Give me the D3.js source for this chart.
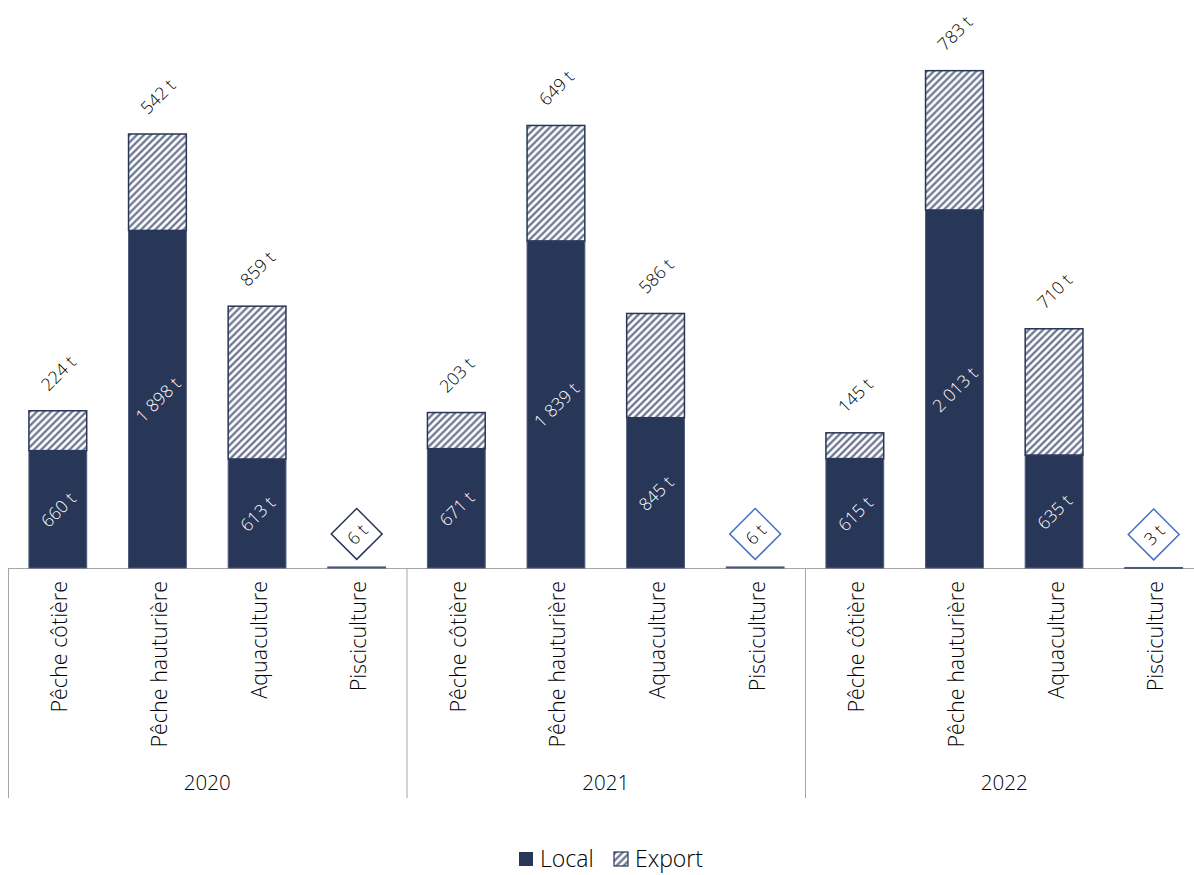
<!DOCTYPE html>
<html>
<head>
<meta charset="utf-8">
<script src="https://cdn.jsdelivr.net/npm/d3@7"></script>
<style>
  body { margin: 0; background: #fff; }
  text { font-family: "Open Sans", "Noto Sans", sans-serif; font-weight: 300; }
</style>
</head>
<body>
<svg width="1194" height="875"></svg>
<script>
// tonnages by year and activity
var years = ['2020', '2021', '2022'];
var categories = ['Pêche côtière', 'Pêche hauturière', 'Aquaculture', 'Pisciculture'];
var localValues = [
  [660, 1898, 613, 6],
  [671, 1839, 845, 6],
  [615, 2013, 635, 3]
];
var exportValues = [
  [224, 542, 859, 0],
  [203, 649, 586, 0],
  [145, 783, 710, 0]
];
var seriesNames = ['Local', 'Export'];
var diamondBorders = ['#283657', '#4472c4', '#4472c4'];

var navy = '#283657';
var baseY = 568;

var fr = d3.formatLocale({ decimal: ',', thousands: '\u00a0', grouping: [3], currency: ['', ''] });
var fmt = function (v) { return fr.format(',')(v) + ' t'; };

var svg = d3.select('svg');

// hatch pattern for export
var defs = svg.append('defs');
var pat = defs.append('pattern')
  .attr('id', 'hatch')
  .attr('patternUnits', 'userSpaceOnUse')
  .attr('width', 5).attr('height', 5)
  .attr('patternTransform', 'rotate(45)');
pat.append('rect').attr('width', 5).attr('height', 5).attr('fill', '#fff');
pat.append('line').attr('x1', 1.5).attr('y1', 0).attr('x2', 1.5).attr('y2', 5)
  .attr('stroke', '#56617f').attr('stroke-width', 2);

var yScale = d3.scaleLinear().domain([0, 3000]).range([baseY, baseY - 3000 * 0.17787]);

var xOuter = d3.scaleBand().domain(years).range([8, 1203.5]);
var xInner = d3.scaleBand().domain(categories).range([0, xOuter.bandwidth()])
  .paddingInner(0.42).paddingOuter(0.21);

// baseline
svg.append('line')
  .attr('x1', xOuter.range()[0]).attr('x2', xOuter.range()[1])
  .attr('y1', baseY + 0.5).attr('y2', baseY + 0.5)
  .attr('stroke', '#a6a6a6').attr('stroke-width', 1);

years.forEach(function (yr, gi) {
  var g = svg.append('g').attr('transform', 'translate(' + xOuter(yr) + ',0)');

  // separator
  g.append('line')
    .attr('x1', 0.5).attr('x2', 0.5)
    .attr('y1', baseY).attr('y2', baseY + 230)
    .attr('stroke', '#a6a6a6');

  // category labels through the axis
  var ax = g.append('g')
    .attr('transform', 'translate(0,' + baseY + ')')
    .call(d3.axisBottom(xInner).tickSize(0).tickPadding(0));
  ax.select('.domain').remove();
  ax.selectAll('text')
    .attr('transform', 'rotate(-90)')
    .attr('x', -13).attr('y', 2).attr('dy', '0.35em')
    .attr('text-anchor', 'end')
    .attr('font-size', 21.5)
    .attr('fill', '#000');

  // year label
  g.append('text')
    .attr('x', xOuter.bandwidth() / 2).attr('y', baseY + 222)
    .attr('text-anchor', 'middle')
    .attr('font-size', 20.5)
    .text(yr);

  categories.forEach(function (cat, ci) {
    var loc = localValues[gi][ci];
    var exp = exportValues[gi][ci];
    var x = xInner(cat), w = xInner.bandwidth(), cx = x + w / 2;

    g.append('rect')
      .attr('x', x).attr('width', w)
      .attr('y', yScale(loc)).attr('height', Math.max(1, baseY - yScale(loc)))
      .attr('fill', navy)
      .attr('stroke', '#4f5a78').attr('stroke-width', 1);

    if (exp > 0) {
      g.append('rect')
        .attr('x', x).attr('width', w)
        .attr('y', yScale(loc + exp)).attr('height', yScale(loc) - yScale(loc + exp))
        .attr('fill', 'url(#hatch)')
        .attr('stroke', navy).attr('stroke-width', 1.5);

      // local label in the middle of the segment
      var my = (yScale(loc) + baseY) / 2;
      g.append('text')
        .attr('transform', 'translate(' + cx + ',' + my + ') rotate(-45)')
        .attr('text-anchor', 'middle').attr('dominant-baseline', 'central')
        .attr('font-size', 17.5).attr('fill', '#fff')
        .text(fmt(loc));

      // export label above the bar
      var ty = yScale(loc + exp) - 38;
      g.append('text')
        .attr('transform', 'translate(' + cx + ',' + ty + ') rotate(-45)')
        .attr('text-anchor', 'middle').attr('dominant-baseline', 'central')
        .attr('font-size', 17.5).attr('fill', '#000')
        .text(fmt(exp));
    } else {
      // small value in a diamond
      var dy = yScale(loc) - 33;
      var d = g.append('g').attr('transform', 'translate(' + cx + ',' + dy + ') rotate(-45)');
      d.append('rect')
        .attr('x', -18).attr('y', -18).attr('width', 36).attr('height', 36)
        .attr('fill', '#fff')
        .attr('stroke', diamondBorders[gi]).attr('stroke-width', 1.5);
      d.append('text')
        .attr('text-anchor', 'middle').attr('dominant-baseline', 'central')
        .attr('font-size', 17.5).attr('fill', '#000')
        .text(fmt(loc));
    }
  });
});

// legend
var legend = svg.append('g').attr('transform', 'translate(519,852)');
var lx = [0, 95];
seriesNames.forEach(function (name, i) {
  var li = legend.append('g').attr('transform', 'translate(' + lx[i] + ',0)');
  li.append('rect')
    .attr('width', 14).attr('height', 14)
    .attr('fill', i === 0 ? navy : 'url(#hatch)')
    .attr('stroke', navy).attr('stroke-width', i === 0 ? 0 : 1.2);
  li.append('text')
    .attr('x', 21).attr('y', 7).attr('dy', '0.35em')
    .attr('font-size', 23)
    .text(name);
});
</script>
</body>
</html>
